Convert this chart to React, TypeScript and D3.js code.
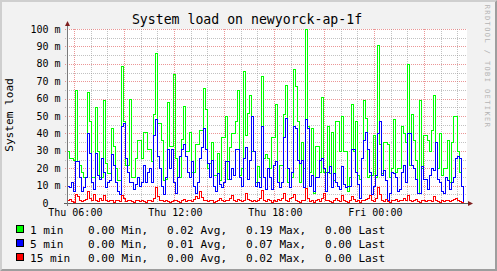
import React from "react";
import * as d3 from "d3";

// ---- data (load values in milli-load units, "m") ----
const START = new Date(2024, 0, 4, 5, 35); // Thu 05:35
const SPAN_HOURS = 24;
const STEP_MINUTES = 7.2;

const load1 = [
  30, 26, 26, 25, 65, 24, 22, 18, 15, 15,
  64, 47, 15, 15, 55, 30, 15, 15, 59, 23,
  17, 17, 43, 33, 20, 13, 13, 79, 47, 22,
  22, 60, 15, 15, 26, 36, 36, 26, 41, 41,
  31, 31, 24, 51, 86, 46, 46, 36, 13, 14,
  58, 33, 33, 74, 26, 15, 15, 37, 56, 30,
  30, 41, 18, 18, 34, 34, 42, 42, 66, 54,
  20, 23, 35, 16, 16, 29, 13, 38, 38, 50,
  14, 32, 40, 40, 47, 65, 16, 20, 76, 39,
  52, 62, 30, 30, 12, 21, 15, 73, 26, 28,
  26, 20, 38, 38, 57, 12, 22, 22, 51, 68,
  12, 9, 15, 77, 67, 47, 12, 35, 20, 100,
  44, 18, 43, 6, 33, 33, 18, 61, 18, 18,
  44, 17, 41, 13, 47, 47, 30, 50, 30, 30,
  7, 15, 57, 30, 47, 16, 14, 26, 59, 49,
  15, 16, 16, 39, 15, 91, 34, 17, 35, 35,
  34, 15, 20, 48, 18, 20, 20, 44, 40, 35,
  80, 22, 51, 36, 25, 6, 59, 20, 39, 39,
  36, 30, 42, 62, 35, 20, 40, 16, 20, 20,
  36, 12, 35, 50, 50, 30, 18, 10, 0,
];

const load5 = [
  10, 9, 12, 7, 24, 24, 15, 7, 9, 15,
  40, 29, 12, 8, 29, 16, 14, 26, 18, 9,
  12, 13, 28, 22, 12, 7, 5, 44, 46, 26,
  18, 12, 12, 8, 11, 15, 10, 12, 22, 12,
  18, 20, 12, 39, 48, 27, 20, 10, 5, 15,
  31, 20, 31, 12, 6, 15, 27, 31, 34, 27,
  18, 15, 24, 10, 6, 12, 26, 32, 43, 31,
  23, 15, 25, 10, 7, 17, 11, 9, 12, 24,
  24, 14, 20, 16, 31, 31, 15, 10, 26, 32,
  14, 25, 50, 30, 10, 12, 9, 44, 15, 8,
  20, 15, 8, 22, 24, 12, 9, 12, 38, 49,
  20, 9, 18, 44, 43, 25, 23, 25, 9, 48,
  43, 10, 16, 7, 15, 15, 25, 26, 20, 7,
  18, 21, 9, 17, 12, 10, 8, 21, 11, 9,
  10, 10, 31, 31, 18, 11, 3, 26, 36, 41,
  31, 18, 5, 10, 16, 40, 47, 16, 19, 13,
  2, 6, 18, 17, 15, 7, 8, 18, 22, 12,
  40, 40, 22, 20, 14, 6, 6, 21, 14, 14,
  8, 16, 20, 19, 35, 14, 12, 7, 6, 15,
  13, 8, 12, 15, 26, 27, 26, 10, 0,
];

const load15 = [
  1.5, 2.5, 1, 0.5, 5, 4, 1.5, 1, 2, 2.5,
  7, 3, 1.5, 5, 2, 1, 3, 2, 4.4, 1.5,
  1, 2, 2, 0.5, 1.5, 2, 1, 4.4, 3, 1,
  2, 1.5, 1, 0.5, 2, 1.5, 1, 2, 1, 0.5,
  1.5, 2, 1, 3, 9.4, 4, 2, 1.5, 1, 2,
  1, 0.5, 1, 2, 1.5, 1, 0.5, 2, 2.5, 1,
  1.5, 2, 1, 2.5, 4, 3, 7, 3.5, 2, 1.5,
  1, 2, 1.5, 0.5, 1, 2, 3, 2, 1, 1.5,
  2, 3, 4.4, 2, 1, 2.5, 1.5, 1, 2, 5.7,
  2.5, 1.5, 1, 2, 1, 1.5, 3, 7.7, 2, 1,
  2.5, 1.5, 0.5, 2, 1, 2.5, 1.5, 3, 6, 2,
  1, 3, 3.5, 5, 2, 1, 0.5, 1.5, 2, 8.8,
  3, 1, 1.5, 0.5, 2, 2.5, 1, 3, 6, 2,
  1.5, 1, 0.5, 2, 3, 1.5, 1, 4.4, 2, 1,
  0.5, 2, 4, 2.5, 1, 1.5, 0.5, 2, 1.5, 2.5,
  3, 4.4, 1.5, 1, 3, 9.4, 5, 2, 1, 2.5,
  1, 0.5, 1.5, 2, 2.5, 1, 2, 1.5, 3, 2,
  4.4, 2, 1, 1.5, 2.5, 1, 0.5, 1.5, 2, 1,
  2, 1.5, 1, 3.8, 2, 1, 0.5, 1.5, 1, 2,
  1.5, 1, 2, 2.5, 3, 2, 1, 0.5, 0,
];

const seriesNames = [" 1 min", " 5 min", "15 min"];
const seriesColors = ["#00FF00", "#0000FF", "#FF0000"];
const minLabels = ["0.00 Min,", "0.00 Min,", "0.00 Min,"];
const avgLabels = ["0.02 Avg,", "0.01 Avg,", "0.00 Avg,"];
const maxLabels = ["0.19 Max,", "0.07 Max,", "0.02 Max,"];
const lastLabels = ["0.00 Last", "0.00 Last", "0.00 Last"];

const yTickValues = [0, 10, 20, 30, 40, 50, 60, 70, 80, 90, 100];
const yTickLabels = ["0  ", "10 m", "20 m", "30 m", "40 m", "50 m", "60 m", "70 m", "80 m", "90 m", "100 m"];
const yMinorValues = [5, 15, 25, 35, 45, 55, 65, 75, 85, 95];

const TITLE = "System load on newyorck-ap-1f";
const Y_LABEL = "System load";
const WATERMARK = "RRDTOOL / TOBI OETIKER";

// ---- layout ----
const W = 497;
const H = 271;
const X0 = 67;
const X1 = 467;
const Y0 = 203;
const Y1 = 29;
const FONT = "'DejaVu Sans Mono', monospace";

export default function App() {
  const end = new Date(START.getTime() + SPAN_HOURS * 3600 * 1000);
  const x = d3.scaleTime().domain([START, end]).range([X0, X1]);
  const y = d3.scaleLinear().domain([0, 100]).range([Y0, Y1]);
  const tAt = (i: number) => new Date(START.getTime() + i * STEP_MINUTES * 60000);

  const line = d3
    .line<number>()
    .x((_, i) => Math.round(x(tAt(i))) + 0.5)
    .y((v) => Math.round(y(v)) + 0.5)
    .curve(d3.curveStepAfter);

  const hours = d3.timeHour.range(START, end);
  const fmt = d3.timeFormat("%a %H:%M");
  const series = [load1, load5, load15];

  const minorColor = "rgba(143,143,143,0.55)";
  const majorColor = "rgba(222,80,80,0.6)";

  return (
    <svg
      width={W}
      height={H}
      style={{ position: "absolute", left: 0, top: 0, display: "block" }}
      fontFamily={FONT}
    >
      {/* background + shading */}
      <rect x={0} y={0} width={W} height={H} fill="#F2F2F2" />
      <path d={`M0,0 L${W},0 L${W - 2},2 L2,2 L2,${H - 2} L0,${H} Z`} fill="#CFCFCF" />
      <path d={`M${W},0 L${W},${H} L0,${H} L2,${H - 2} L${W - 2},${H - 2} L${W - 2},2 Z`} fill="#9E9E9E" />

      {/* canvas */}
      <rect x={X0} y={Y1} width={X1 - X0} height={Y0 - Y1} fill="#FFFFFF" />

      {/* horizontal grid */}
      {yMinorValues.map((v) => (
        <line
          key={"hm" + v}
          x1={X0 - 2}
          x2={X1}
          y1={Math.round(y(v)) + 0.5}
          y2={Math.round(y(v)) + 0.5}
          stroke={minorColor}
          strokeDasharray="1,1"
          shapeRendering="crispEdges"
        />
      ))}
      {yTickValues.slice(1).map((v) => (
        <line
          key={"hM" + v}
          x1={X0 - 2}
          x2={X1}
          y1={Math.round(y(v)) + 0.5}
          y2={Math.round(y(v)) + 0.5}
          stroke={majorColor}
          strokeDasharray="1,1"
          shapeRendering="crispEdges"
        />
      ))}

      {/* vertical grid */}
      {hours.map((h) => {
        const px = Math.round(x(h)) + 0.5;
        const major = h.getHours() % 3 === 0;
        return (
          <line
            key={"v" + h.getTime()}
            x1={px}
            x2={px}
            y1={Y1}
            y2={Y0 + 2}
            stroke={major ? majorColor : minorColor}
            strokeDasharray="1,1"
            shapeRendering="crispEdges"
          />
        );
      })}

      {/* data lines */}
      {series.map((s, k) => (
        <path
          key={"s" + k}
          d={line(s) || ""}
          fill="none"
          stroke={seriesColors[k]}
          strokeWidth={1}
          shapeRendering="crispEdges"
        />
      ))}

      {/* axes */}
      <line x1={X0 - 3} x2={X1 + 1} y1={Y0 + 0.5} y2={Y0 + 0.5} stroke="#5A5A5A" />
      <line x1={X0 + 0.5} x2={X0 + 0.5} y1={Y0 + 3} y2={Y1 - 3} stroke="#7A7A7A" />
      <path d={`M${X1 + 1},${Y0 - 2} L${X1 + 6},${Y0 + 0.5} L${X1 + 1},${Y0 + 3} Z`} fill="#7F1F1F" />
      <path d={`M${X0 - 2},${Y1 - 3} L${X0 + 0.5},${Y1 - 8} L${X0 + 3},${Y1 - 3} Z`} fill="#7F1F1F" />

      {/* y labels */}
      {yTickValues.map((v, i) => (
        <text
          key={"yl" + v}
          x={60.5}
          y={y(v) + 3.6}
          fontSize={10}
          textAnchor="end"
          fill="#000"
          style={{ whiteSpace: "pre" }}
        >
          {yTickLabels[i]}
        </text>
      ))}

      {/* x labels */}
      {hours
        .filter((h) => h.getHours() % 6 === 0)
        .map((h) => (
          <text key={"xl" + h.getTime()} x={x(h) + 1.4} y={216} fontSize={10} textAnchor="middle" fill="#000">
            {fmt(h)}
          </text>
        ))}

      {/* title */}
      <text x={247} y={23.5} fontSize={13.2} textAnchor="middle" fill="#000">
        {TITLE}
      </text>

      {/* y axis label */}
      <text transform="translate(12.5,115) rotate(-90)" fontSize={11.1} textAnchor="middle" fill="#000">
        {Y_LABEL}
      </text>

      {/* watermark */}
      <text
        transform="translate(485,66.5) rotate(90)"
        fontSize={7}
        letterSpacing={1.4}
        textAnchor="middle"
        fill="#B4B4B4"
      >
        {WATERMARK}
      </text>

      {/* legend */}
      {seriesNames.map((name, k) => {
        const by = 233.5 + k * 14;
        return (
          <g key={"lg" + k} fontSize={11.1} fill="#000" style={{ whiteSpace: "pre" }}>
            <rect x={16.5} y={by - 8} width={7} height={7} fill={seriesColors[k]} stroke="#000" />
            <text x={30} y={by}>{name}</text>
            <text x={88} y={by}>{minLabels[k]}</text>
            <text x={167} y={by}>{avgLabels[k]}</text>
            <text x={246} y={by}>{maxLabels[k]}</text>
            <text x={325} y={by}>{lastLabels[k]}</text>
          </g>
        );
      })}
    </svg>
  );
}
